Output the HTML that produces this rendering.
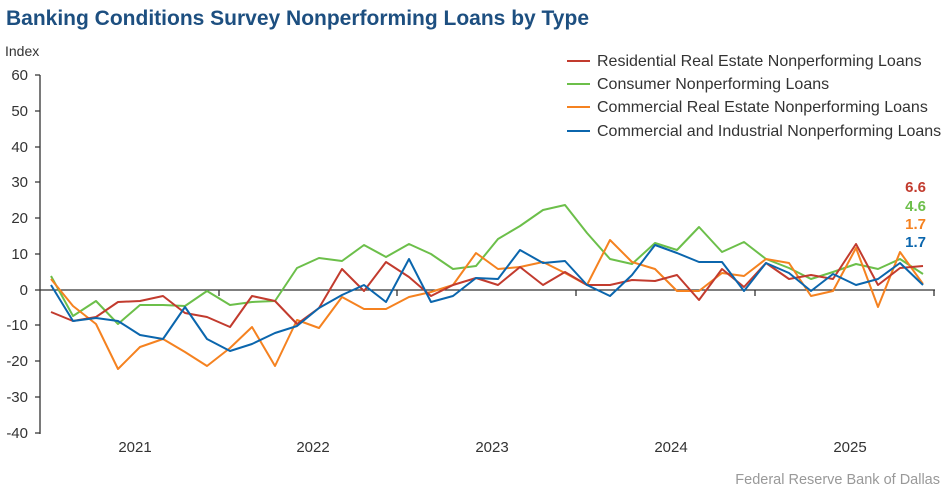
<!DOCTYPE html><html><head><style>body{margin:0;background:#fff}svg{display:block;font-family:"Liberation Sans",Arial,sans-serif}</style></head><body>
<svg width="949" height="493" viewBox="0 0 949 493" xmlns="http://www.w3.org/2000/svg">
<text x="6" y="25" font-size="21" font-weight="bold" fill="#1d4f80">Banking Conditions Survey Nonperforming Loans by Type</text>
<text x="5" y="56" font-size="14" fill="#333">Index</text>
<g font-size="15" fill="#333" text-anchor="end">
<text x="28" y="80">60</text><text x="28" y="116">50</text><text x="28" y="152">40</text><text x="28" y="187">30</text><text x="28" y="223">20</text><text x="28" y="259">10</text><text x="28" y="295">0</text><text x="28" y="330">-10</text><text x="28" y="366">-20</text><text x="28" y="402">-30</text><text x="28" y="438">-40</text></g>
<g stroke="#333" stroke-width="1.3"><line x1="40" y1="75" x2="40" y2="434"/>
<path d="M35 75H40M35 111H40M35 147H40M35 182H40M35 218H40M35 254H40M35 290H40M35 325H40M35 361H40M35 397H40M35 433H40"/>
<line x1="40" y1="290" x2="935" y2="290"/>
<path d="M219 290V296M397 290V296M576 290V296M755 290V296M934 290V296"/></g>
<g font-size="15" fill="#333" text-anchor="middle"><text x="135" y="452">2021</text><text x="313" y="452">2022</text><text x="492" y="452">2023</text><text x="671" y="452">2024</text><text x="850" y="452">2025</text></g>
<text x="940" y="484" font-size="14.5" fill="#999" text-anchor="end">Federal Reserve Bank of Dallas</text>
<g fill="none" stroke-width="2" stroke-linejoin="round">
<polyline stroke="#6cbf4a" points="51,276 73,316 96,301 118,324 140,305 163,305 185,306 207,291 230,305 252,302 275,301 297,268 319,258 342,261 364,245 386,257 409,244 431,254 453,269 476,266 498,239 520,226 543,210 565,205 587,233 610,259 632,264 655,243 677,250 699,227 722,252 744,242 766,259 789,268 811,279 833,272 856,264 878,269 900,259 923,274"/>
<polyline stroke="#f58220" points="51,279 73,306 96,324 118,369 140,347 163,339 185,352 207,366 230,348 252,327 275,366 297,320 319,328 342,297 364,309 386,309 409,297 431,292 453,285 476,253 498,269 520,267 543,262 565,273 587,285 610,240 632,262 655,269 677,291 699,291 722,273 744,276 766,259 789,263 811,296 833,291 856,248 878,307 900,252 923,284"/>
<polyline stroke="#c23b2e" points="51,312 73,321 96,317 118,302 140,301 163,296 185,313 207,317 230,327 252,296 275,301 297,324 319,308 342,269 364,291 386,262 409,277 431,296 453,285 476,278 498,285 520,267 543,285 565,272 587,285 610,285 632,280 655,281 677,275 699,300 722,269 744,287 766,263 789,279 811,275 833,279 856,244 878,285 900,268 923,266"/>
<polyline stroke="#0b66ad" points="51,285 73,321 96,318 118,321 140,335 163,339 185,307 207,339 230,351 252,344 275,333 297,326 319,308 342,295 364,285 386,302 409,259 431,302 453,296 476,278 498,279 520,250 543,263 565,261 587,285 610,296 632,275 655,245 677,253 699,262 722,262 744,291 766,263 789,273 811,291 833,274 856,285 878,279 900,263 923,285"/>
</g>
<g stroke-width="2"><line x1="567" y1="61" x2="590" y2="61" stroke="#c23b2e"/><line x1="567" y1="84" x2="590" y2="84" stroke="#6cbf4a"/><line x1="567" y1="107" x2="590" y2="107" stroke="#f58220"/><line x1="567" y1="131" x2="590" y2="131" stroke="#0b66ad"/></g>
<g font-size="16" fill="#333"><text x="597" y="66">Residential Real Estate Nonperforming Loans</text><text x="597" y="89">Consumer Nonperforming Loans</text><text x="597" y="112">Commercial Real Estate Nonperforming Loans</text><text x="597" y="136">Commercial and Industrial Nonperforming Loans</text></g>
<g font-size="15" font-weight="bold" text-anchor="end"><text x="926" y="192" fill="#c23b2e">6.6</text><text x="926" y="211" fill="#6cbf4a">4.6</text><text x="926" y="229" fill="#f58220">1.7</text><text x="926" y="247" fill="#0b66ad">1.7</text></g>
</svg></body></html>
